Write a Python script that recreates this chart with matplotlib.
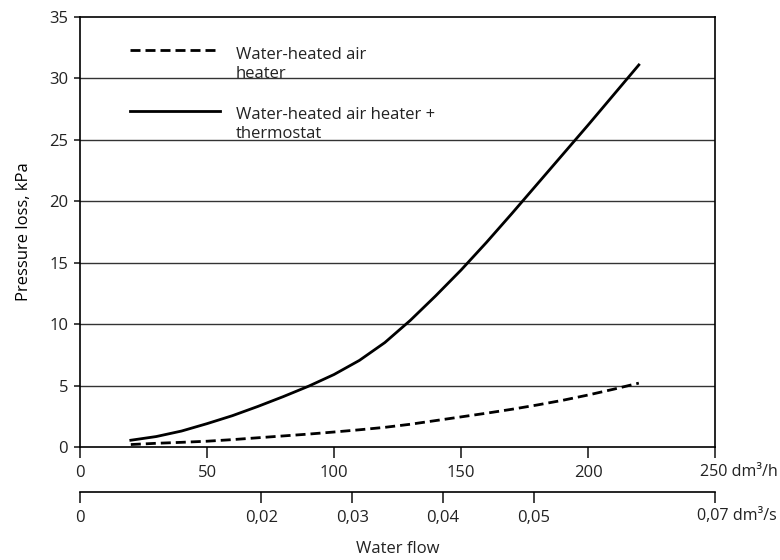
import matplotlib
matplotlib.use("Agg")
import matplotlib.pyplot as plt
from matplotlib.lines import Line2D

plt.rcParams['font.family'] = ['Open Sans', 'DejaVu Sans']
plt.rcParams['font.size'] = 12
plt.rcParams['text.color'] = '#222222'
plt.rcParams['xtick.color'] = '#222222'
plt.rcParams['ytick.color'] = '#222222'

# water flow, dm3/h
flow = [20, 30, 40, 50, 60, 70, 80, 90, 100, 110, 120, 130, 140, 150, 160, 170, 180, 190, 200, 210, 220]
# pressure loss, kPa
heater = [0.2, 0.3, 0.38, 0.47, 0.6, 0.75, 0.9, 1.05, 1.22, 1.4, 1.6, 1.85, 2.15, 2.45, 2.75, 3.07, 3.42, 3.8, 4.23, 4.7, 5.2]
heater_thermo = [0.55, 0.85, 1.3, 1.9, 2.55, 3.3, 4.1, 4.95, 5.9, 7.05, 8.5, 10.3, 12.3, 14.4, 16.65, 19.0, 21.4, 23.8, 26.2, 28.65, 31.1]

x_ticks = [0, 50, 100, 150, 200, 250]
x_labels = ['0', '50', '100', '150', '200', '']
s_ticks = [0, 0.02, 0.03, 0.04, 0.05, 0.07]
s_labels = ['0', '0,02', '0,03', '0,04', '0,05', '']
y_ticks = [0, 5, 10, 15, 20, 25, 30, 35]

legend_labels = ['Water-heated air\nheater', 'Water-heated air heater +\nthermostat']

fig = plt.figure(figsize=(7.8, 5.6), dpi=100)
ax = fig.add_axes([0.1026, 0.2018, 0.8141, 0.7678])

for v in y_ticks[1:-1]:
    ax.axhline(v, color='#333333', lw=1.0, zorder=1)

ax.plot(flow, heater, color='black', lw=2.0, dashes=(3.6, 1.8), zorder=3)
ax.plot(flow, heater_thermo, color='black', lw=2.0, zorder=3, solid_joinstyle='round')

ax.set_xlim(0, 250)
ax.set_ylim(0, 35)
ax.set_xticks(x_ticks)
ax.set_xticklabels(x_labels)
ax.set_yticks(y_ticks)
ax.tick_params(axis='x', direction='out', length=8, width=1.2, pad=5)
ax.tick_params(axis='y', direction='out', length=4.5, width=1.2, pad=4)
for sp in ax.spines.values():
    sp.set_linewidth(1.2)
    sp.set_color('black')

sec = ax.secondary_xaxis(-0.104, functions=(lambda h: h * 0.07 / 250, lambda s: s * 250 / 0.07))
sec.set_xticks(s_ticks)
sec.set_xticklabels(s_labels)
sec.tick_params(direction='out', length=8, width=1.2, pad=5)
sec.spines['bottom'].set_linewidth(1.2)

# end labels carry the unit, number centred on the tick
ax.annotate('250 dm³/h', xy=(250, 0), xycoords=ax.get_xaxis_transform(),
            xytext=(-15, -25), textcoords='offset pixels', ha='left', va='center',
            fontsize=11.6)
ax.annotate('0,07 dm³/s', xy=(250, 0), xycoords=ax.get_xaxis_transform(),
            xytext=(-18, -69), textcoords='offset pixels', ha='left', va='center',
            fontsize=11.6)

ax.set_ylabel('Pressure loss, kPa', labelpad=12)
fig.text(0.51, 0.019, 'Water flow', ha='center', va='center')

# legend drawn by hand so the line sits on the first text line
styles = [dict(dashes=(3.6, 1.8)), dict()]
line_y = [0.9233, 0.7814]
text_y = [0.8574, 0.7185]
for lab, st, ly, ty in zip(legend_labels, styles, line_y, text_y):
    ax.add_line(Line2D([0.0787, 0.2205], [ly, ly], transform=ax.transAxes,
                       color='black', lw=2.0, **st))
    ax.text(0.2457, ty, lab, transform=ax.transAxes, ha='left', va='baseline',
            linespacing=1.28)

fig.savefig('out.png', dpi=100)
